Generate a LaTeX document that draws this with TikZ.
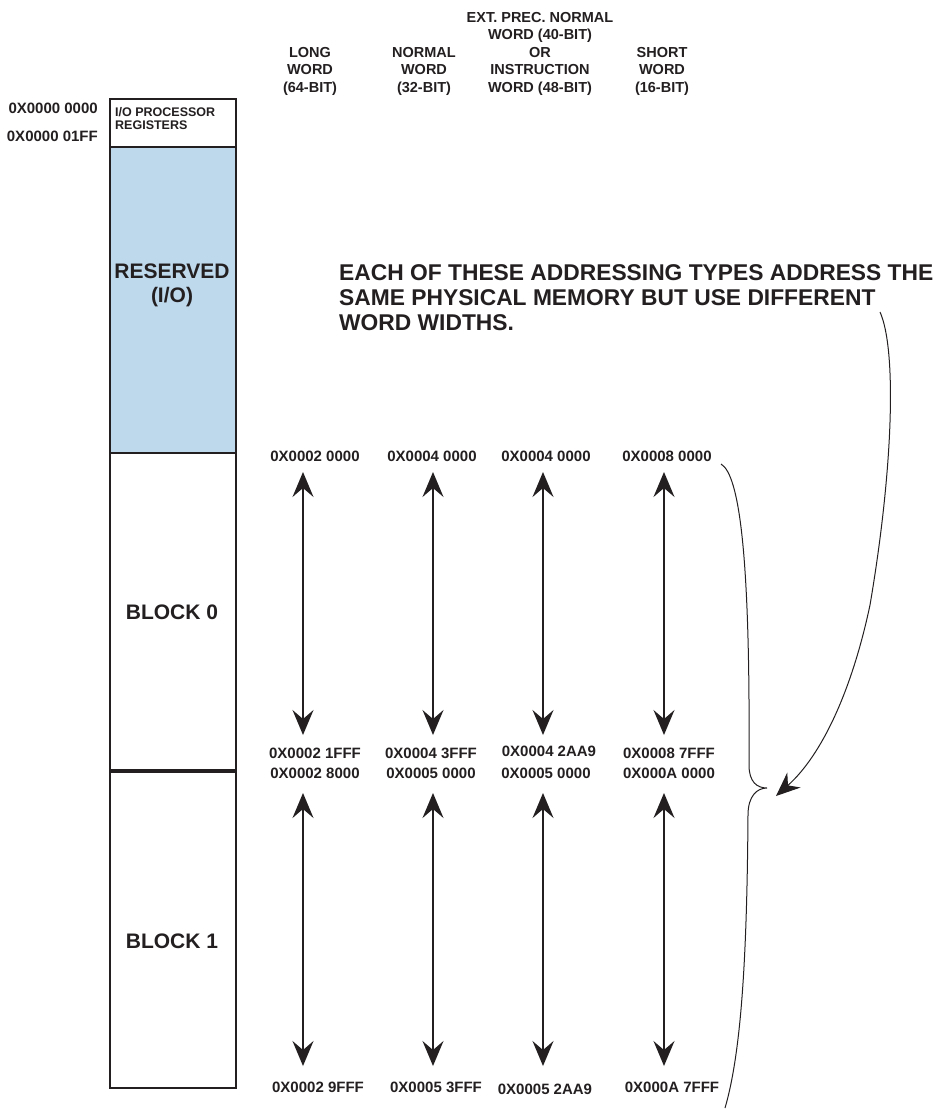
\documentclass[tikz,border=0pt]{standalone}
\usepackage{fontspec}
\setmainfont{Liberation Sans}
\usetikzlibrary{arrows.meta}
\definecolor{resblue}{RGB}{190,216,236}
\definecolor{ink}{RGB}{35,31,32}
\begin{document}
\begin{tikzpicture}[x=1pt,y=-1pt,
  lbl/.style={font=\fontsize{15}{16}\selectfont\bfseries, text=ink, inner sep=0pt},
  hdr/.style={font=\fontsize{14.5}{17.5}\selectfont\bfseries, text=ink, align=center, inner sep=0pt},
  big/.style={font=\fontsize{22.8}{25}\selectfont\bfseries, text=ink, align=left, inner sep=0pt},
  blk/.style={font=\fontsize{21}{24}\selectfont\bfseries, text=ink, align=center, inner sep=0pt},
  region/.style={draw=ink, line width=1.8pt, minimum width=126pt, anchor=north west, inner sep=0pt},
  rng/.style={{Stealth[length=25pt,width=21pt,inset=9pt]}-{Stealth[length=25pt,width=21pt,inset=9pt]}, line width=1.5pt, draw=ink},
  thin/.style={line width=1pt, draw=ink}
]
\useasboundingbox (0,0) rectangle (934,1109);

% memory map column
\node[region, fill=white, minimum height=48pt] (io) at (109,98) {};
\node[region, fill=resblue, minimum height=306pt] (res) at (109,146) {};
\node[region, fill=white, minimum height=317pt] (b0) at (109,452) {};
\node[region, fill=white, minimum height=318pt] (b1) at (109,769) {};
\draw[draw=ink, line width=3.5pt] (b0.south west) -- (b0.south east);

\node[font=\fontsize{12.5}{13.5}\selectfont\bfseries, text=ink, align=left, anchor=west, inner sep=0pt] (iotxt) at (115,118.5) {I/O PROCESSOR\\REGISTERS};
\node[blk] (restxt) at (172,285) {RESERVED\\(I/O)};
\node[blk] (b0txt) at (172,612) {BLOCK 0};
\node[blk] (b1txt) at (172,941) {BLOCK 1};

\node[lbl, anchor=east] (a0) at (98,108) {0X0000 0000};
\node[lbl, anchor=east] (a1) at (98,136) {0X0000 01FF};

% column headers
\node[hdr] (h1) at (310,71) {LONG\\WORD\\(64-BIT)};
\node[hdr] (h2) at (424,71) {NORMAL\\WORD\\(32-BIT)};
\node[hdr] (h3) at (540,53.5) {EXT. PREC. NORMAL\\WORD (40-BIT)\\OR\\INSTRUCTION\\WORD (48-BIT)};
\node[hdr] (h4) at (662,71) {SHORT\\WORD\\(16-BIT)};

% note
\node[big, anchor=west] (note) at (339,298) {EACH OF THESE ADDRESSING TYPES ADDRESS THE\\SAME PHYSICAL MEMORY BUT USE DIFFERENT\\WORD WIDTHS.};

% address labels, block 0
\node[lbl] (t1) at (315,456) {0X0002 0000};
\node[lbl] (t2) at (432,456) {0X0004 0000};
\node[lbl] (t3) at (546,456) {0X0004 0000};
\node[lbl] (t4) at (667,456) {0X0008 0000};
\node[lbl] (m1) at (315,753) {0X0002 1FFF};
\node[lbl] (m2) at (431,753) {0X0004 3FFF};
\node[lbl] (m3) at (549,751) {0X0004 2AA9};
\node[lbl] (m4) at (669,753) {0X0008 7FFF};
% address labels, block 1
\node[lbl] (n1) at (315,773) {0X0002 8000};
\node[lbl] (n2) at (431,773) {0X0005 0000};
\node[lbl] (n3) at (546,773) {0X0005 0000};
\node[lbl] (n4) at (669,773) {0X000A 0000};
\node[lbl] (e1) at (318,1087) {0X0002 9FFF};
\node[lbl] (e2) at (436,1087) {0X0005 3FFF};
\node[lbl] (e3) at (545,1089) {0X0005 2AA9};
\node[lbl] (e4) at (672,1087) {0X000A 7FFF};

% arrow end points
\coordinate (u1t) at (303,472); \coordinate (u1b) at (303,735);
\coordinate (u2t) at (433,472); \coordinate (u2b) at (433,735);
\coordinate (u3t) at (543,472); \coordinate (u3b) at (543,735);
\coordinate (u4t) at (664,472); \coordinate (u4b) at (664,735);
\coordinate (l1t) at (303,793); \coordinate (l1b) at (303,1066);
\coordinate (l2t) at (433,793); \coordinate (l2b) at (433,1066);
\coordinate (l3t) at (543,793); \coordinate (l3b) at (543,1066);
\coordinate (l4t) at (664,793); \coordinate (l4b) at (664,1066);

\foreach \i in {1,2,3,4} {
  \draw[rng] (u\i t) -- (u\i b);
  \draw[rng] (l\i t) -- (l\i b);
}

% brace
\coordinate (bt) at (721,464);
\coordinate (bm) at (767,788);
\coordinate (bb) at (725,1108);
\draw[thin] (bt) .. controls (740,475) and (748,560) .. (749,700)
  -- (749,765) .. controls (749,782) and (757,788) .. (bm)
  .. controls (757,788) and (748,796) .. (748,815)
  .. controls (747,950) and (742,1050) .. (bb);

% curved arrow from note to brace
\coordinate (ct) at (880,312);
\coordinate (cb) at (776,796);
\draw[thin, -{Stealth[length=24pt,width=20pt,inset=8pt]}] (ct) .. controls (897,350) and (893,470) .. (870,605)
  .. controls (852,690) and (822,755) .. (cb);
\end{tikzpicture}
\end{document}
